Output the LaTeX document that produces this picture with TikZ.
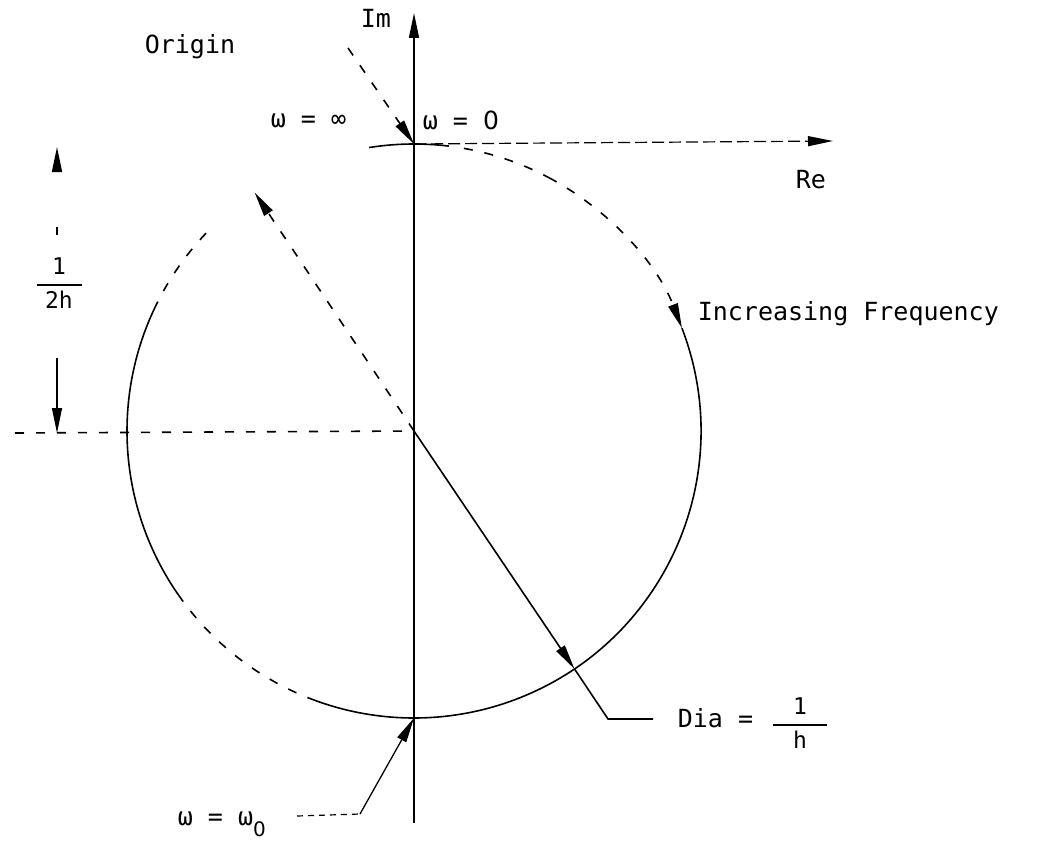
\documentclass[tikz,border=0pt]{standalone}
\usepackage{fontspec}
\usepackage{amsmath}
\setmainfont{DejaVu Sans Mono}
\newfontfamily\zerofont{DejaVu Sans}
\newcommand{\zr}{{\zerofont 0}}
\usetikzlibrary{arrows.meta,calc}
\begin{document}
\begin{tikzpicture}[x=1pt,y=1pt,
  line width=1.6pt,
  faded/.style={dash pattern=on 9pt off 12pt},
  thin faded/.style={dash pattern=on 12pt off 5pt, line width=1.2pt},
  arr/.style={-{Triangle[length=25pt,width=10pt]}},
  lbl/.style={font=\fontsize{25}{30}\selectfont, inner sep=0pt},
  frac/.style={font=\fontsize{23}{27}\selectfont, inner sep=0pt}]
\useasboundingbox (0,0) rectangle (1044,-843);
% key points
\coordinate (C) at (414,-431);
\coordinate (O) at (414,-144);
\coordinate (B) at (414,-718);
\coordinate (imlo) at (414,-823);
\coordinate (imhi) at (414,-13);
\coordinate (rehi) at (833,-141);
\coordinate (P1) at ($(C)+(123.75:287)$);
\coordinate (P2) at ($(C)+(-56:287)$);
\coordinate (diaC) at (608,-719);
\coordinate (diaE) at (653,-719);
\coordinate (orgl) at (348,-48);
\coordinate (hl) at (15,-433);
\coordinate (dimA) at (57,-235);
\coordinate (dimAt) at (57,-147);
\coordinate (dimB) at (57,-358);
\coordinate (dimBt) at (57,-433);
\coordinate (w0a) at (297,-816);
\coordinate (w0b) at (360,-814);
% axes
\draw[arr] (imlo) -- (imhi);
\draw[thin faded, arr] (O) -- (rehi);
% circle pieces
\draw (C) ++(83:287) arc[start angle=83, end angle=99, radius=287];
\draw[faded] (C) ++(80:287) arc[start angle=80, end angle=62, radius=287];
\draw[faded, arr] (C) ++(62:287) arc[start angle=62, end angle=21, radius=287];
\draw (C) ++(21:287) arc[start angle=21, end angle=-110, radius=287];
\draw[faded] (C) ++(-110:287) arc[start angle=-110, end angle=-145, radius=287];
\draw (C) ++(-145:287) arc[start angle=-145, end angle=-205, radius=287];
\draw[faded] (C) ++(155:287) arc[start angle=155, end angle=135, radius=287];
% diameter
\draw[faded, arr] (C) -- (P1);
\draw[arr] (C) -- (P2);
\draw (P2) -- (diaC) -- (diaE);
% centre line and dimension
\draw[faded] (hl) -- (C);
\draw[dash pattern=on 8pt off 100pt, arr] (dimA) -- (dimAt);
\draw[line width=1.2pt, arr] (dimB) -- (dimBt);
% leaders
\draw[faded, arr] (orgl) -- (O);
\draw[dash pattern=on 6pt off 5pt, line width=1.2pt] (w0a) -- (w0b);
\draw[line width=1.3pt, arr] (w0b) -- (B);
% labels
\node[lbl, anchor=base west] (im) at (360,-28) {Im};
\node[lbl, anchor=base] (origin) at (190,-54) {Origin};
\node[lbl, anchor=base west] (winf) at (270,-127) {ω = ∞};
\node[lbl, anchor=base west] (wzero) at (422,-129) {ω = \zr};
\node[lbl, anchor=base west] (re) at (795,-188) {Re};
\node[lbl, anchor=base west] (incf) at (697,-320) {Increasing Frequency};
\node[frac] (half) at (59,-283) {$\genfrac{}{}{1.6pt}{0}{\makebox[45pt]{1}}{\makebox[45pt]{2h}}$};
\node[lbl, anchor=base west] (dia) at (677,-727) {Dia =};
\node[frac] (diaf) at (800,-723) {$\genfrac{}{}{1.6pt}{0}{\makebox[54pt]{1}}{\makebox[54pt]{h}}$};
\node[lbl, anchor=base west] (wo) at (177,-825) {ω = ω\raisebox{-11pt}{\fontsize{20}{20}\selectfont\zr}};
\end{tikzpicture}
\end{document}
